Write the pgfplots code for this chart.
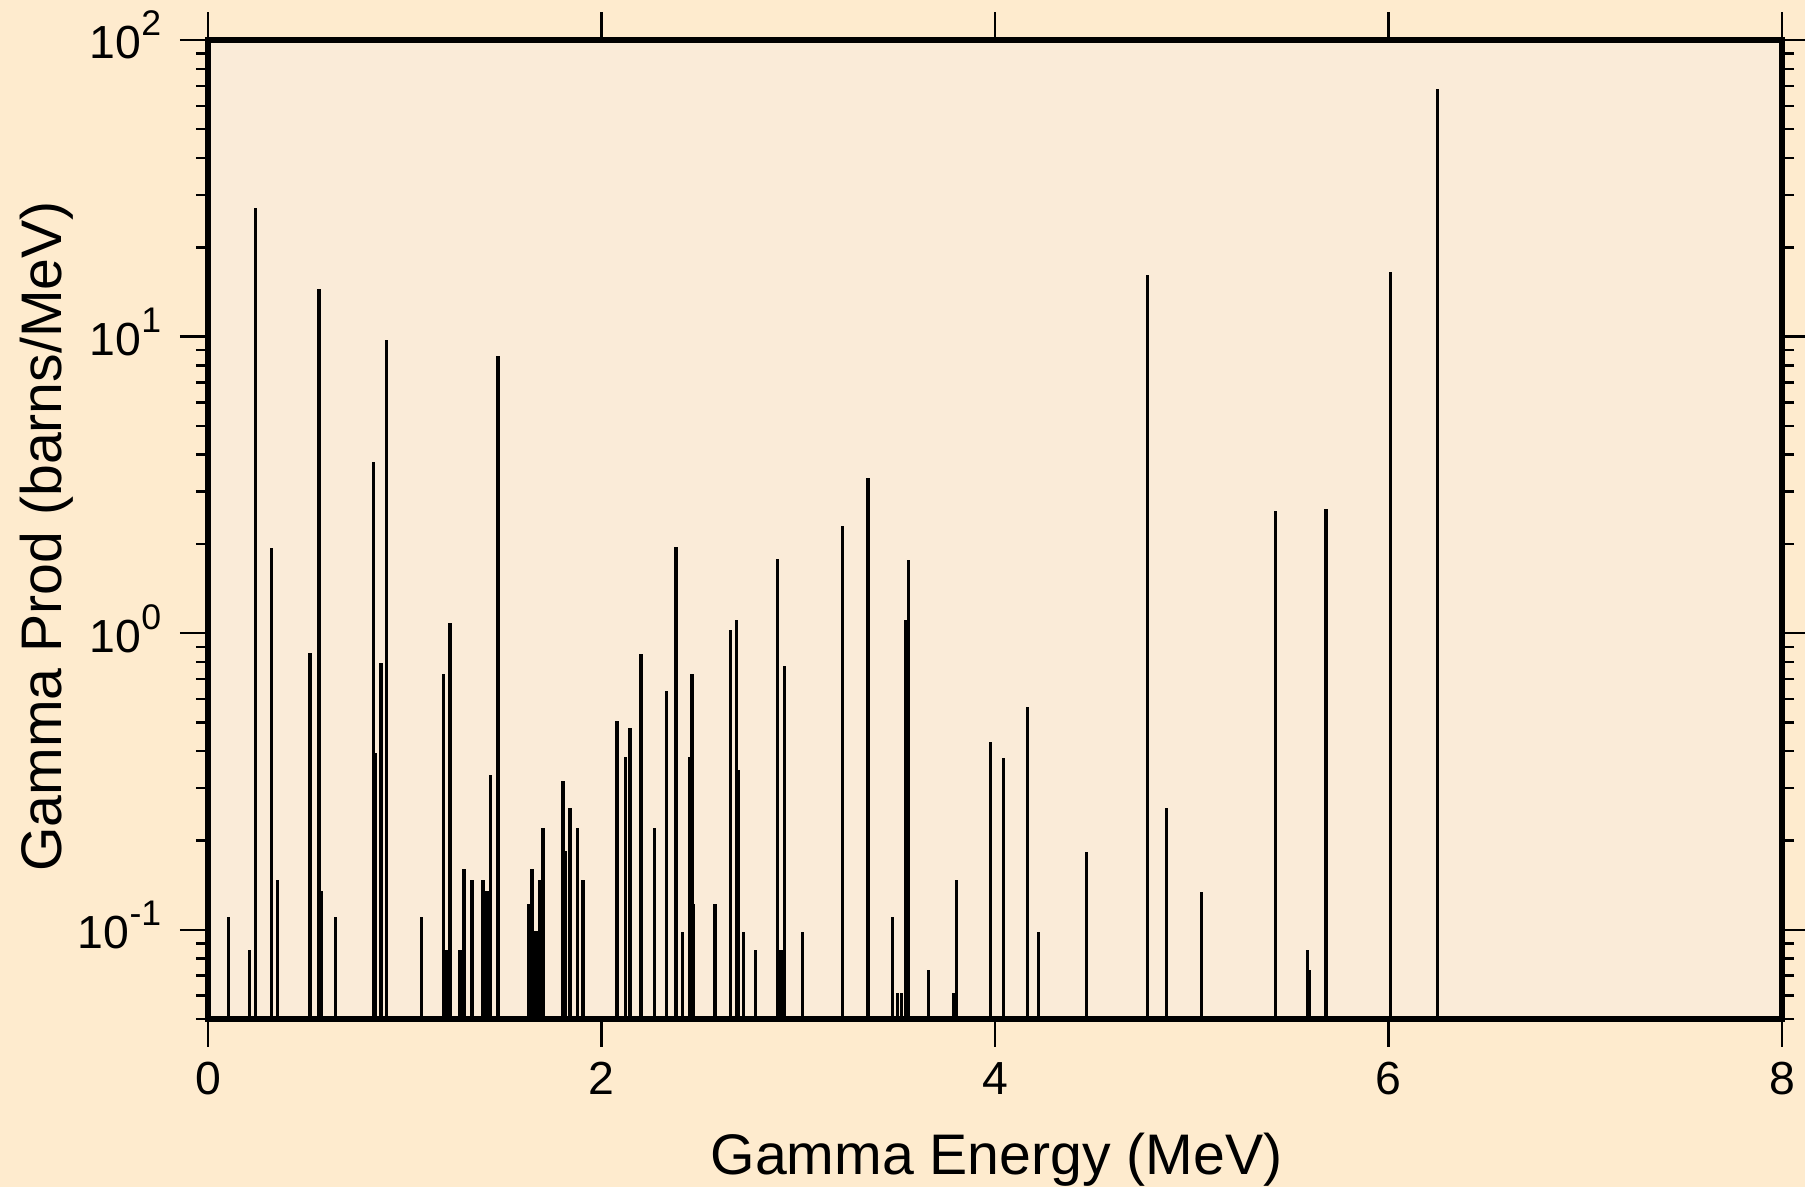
\documentclass[border=0pt]{standalone}
\usepackage{fontspec}
\setmainfont{Liberation Sans}
\usepackage{pgfplots}
\pgfplotsset{compat=1.18}
\usetikzlibrary{backgrounds}

\definecolor{outerbg}{RGB}{254,235,206}
\definecolor{innerbg}{RGB}{250,235,216}

% 10^n label set in the text font
\newcommand{\pw}[1]{10\raisebox{5.75pt}{\fontsize{8.9}{10}\selectfont #1}}

\pgfplotstableread{
E      v
0.105  0.110
0.210  0.0855
0.240  27.1
0.323  1.93
0.352  0.147
0.518  0.859
0.564  14.5
0.576  0.135
0.649  0.110
0.840  3.78
0.850  0.393
0.879  0.796
0.906  9.76
1.085  0.110
1.196  0.726
1.210  0.0855
1.230  1.078
1.281  0.0855
1.301  0.160
1.342  0.147
1.398  0.147
1.418  0.135
1.435  0.332
1.474  8.59
1.630  0.122
1.647  0.160
1.667  0.099
1.687  0.147
1.703  0.220
1.804  0.318
1.817  0.184
1.840  0.258
1.876  0.220
1.906  0.147
2.079  0.506
2.122  0.381
2.145  0.478
2.201  0.848
2.271  0.221
2.330  0.636
2.379  1.956
2.410  0.0983
2.447  0.381
2.460  0.726
2.467  0.1225
2.577  0.1225
2.654  1.024
2.686  1.107
2.698  0.345
2.720  0.0983
2.783  0.0853
2.895  1.78
2.907  0.0853
2.913  0.0853
2.932  0.774
3.020  0.0983
3.223  2.29
3.355  3.34
3.477  0.110
3.505  0.0612
3.526  0.0612
3.547  1.105
3.559  1.76
3.660  0.0731
3.791  0.0612
3.803  0.1466
3.979  0.428
4.043  0.380
4.164  0.564
4.223  0.0983
4.467  0.183
4.776  16.1
4.870  0.257
5.048  0.134
5.424  2.59
5.587  0.0853
5.599  0.0733
5.682  2.63
6.010  16.5
6.248  68.4
}\gammadata

\begin{document}
\begin{tikzpicture}
\begin{axis}[
  scale only axis,
  width=393.5pt, height=244.75pt,
  xmin=0, xmax=8,
  ymode=log, ymin=0.05, ymax=100,
  log origin y=infty,
  axis background/.style={fill=innerbg},
  axis line style={line width=1.3pt},
  every tick/.style={black, line width=0.6pt},
  tick align=outside, tick pos=both,
  major tick length=7pt, minor tick length=3pt,
  xtick={0,2,4,6,8}, minor xtick={},
  ytick={0.1,1,10,100},
  yticklabels={\pw{-1},\pw{0},\pw{1},\pw{2}},
  minor ytick={0.05,0.06,0.07,0.08,0.09,0.2,0.3,0.4,0.5,0.6,0.7,0.8,0.9,2,3,4,5,6,7,8,9,20,30,40,50,60,70,80,90},
  /pgf/number format/assume math mode=true,
  xticklabel style={font=\fontsize{11.6}{14}\selectfont, anchor=base, inner sep=0pt, yshift=-12pt},
  yticklabel style={font=\fontsize{11.6}{14}\selectfont, anchor=base east, inner sep=0pt, xshift=-4.5pt, yshift=-4.75pt},
  xlabel={Gamma Energy (MeV)},
  ylabel={Gamma Prod (barns/MeV)},
  label style={font=\fontsize{14.3}{16}\selectfont},
  xlabel style={at={(rel axis cs:0.501,-0.159)}, anchor=base},
  ylabel style={at={(rel axis cs:-0.0933,0.493)}, anchor=base},
]
\addplot[ycomb, black, line width=0.8pt, mark=none] table[x=E, y=v] {\gammadata};
\coordinate (bl) at (rel axis cs:0,0);
\coordinate (tr) at (rel axis cs:1,1);
\end{axis}
\pgfresetboundingbox
\path ([shift={(-52pt,-42pt)}]bl) rectangle ([shift={(5.75pt,10pt)}]tr);
\begin{scope}[on background layer]
\fill[outerbg] ([shift={(-52pt,-42pt)}]bl) rectangle ([shift={(5.75pt,10pt)}]tr);
\end{scope}
\end{tikzpicture}
\end{document}
